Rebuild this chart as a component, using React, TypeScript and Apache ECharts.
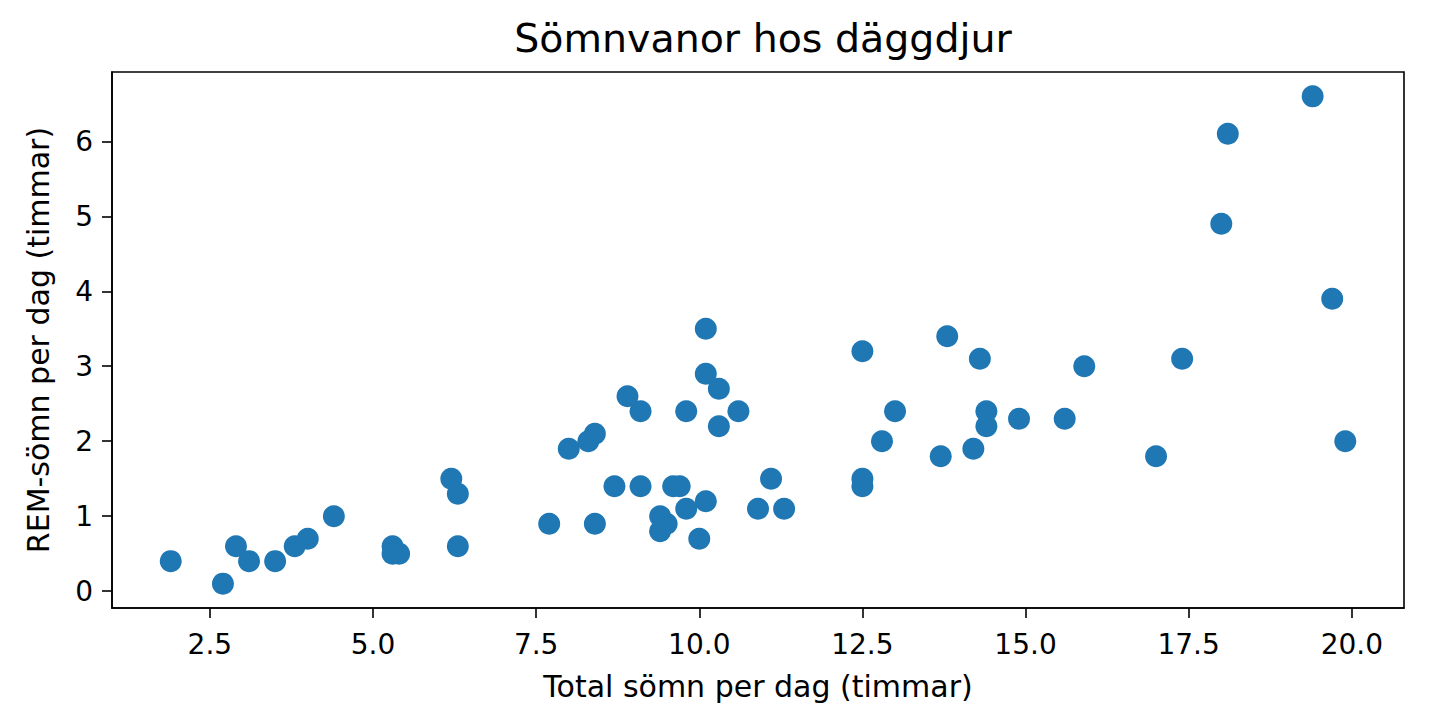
import { useEffect, useRef } from 'react';
import * as echarts from 'echarts';

// msleep: total sleep vs REM sleep (rows with REM missing are dropped)
const sleepTotal = [
  17.0, 14.4, 14.9, 4.0, 14.4, 8.7, 10.1, 5.3, 9.4, 10.0, 12.5, 10.3, 8.3, 9.1, 17.4,
  5.3, 18.0, 19.7, 2.9, 3.1, 10.1, 10.9, 12.5, 9.8, 1.9, 2.7, 6.2, 6.3, 8.0, 9.5,
  19.4, 10.1, 14.2, 14.3, 12.5, 19.9, 7.7, 8.4, 3.8, 9.7, 9.4, 10.3, 13.7, 3.5, 11.1,
  18.1, 5.4, 13.0, 9.6, 8.4, 11.3, 10.6, 13.8, 15.9, 12.8, 9.1, 4.4, 15.6, 8.9, 6.3,
  9.8,
];
const sleepRem = [
  1.8, 2.4, 2.3, 0.7, 2.2, 1.4, 2.9, 0.6, 0.8, 0.7, 1.5, 2.2, 2.0, 1.4, 3.1,
  0.5, 4.9, 3.9, 0.6, 0.4, 3.5, 1.1, 3.2, 1.1, 0.4, 0.1, 1.5, 0.6, 1.9, 0.9,
  6.6, 1.2, 1.9, 3.1, 1.4, 2.0, 0.9, 0.9, 0.6, 1.4, 1.0, 2.7, 1.8, 0.4, 1.5,
  6.1, 0.5, 2.4, 1.4, 2.1, 1.1, 2.4, 3.4, 3.0, 2.0, 2.4, 1.0, 2.3, 2.6, 1.3,
  2.4,
];
const xTicks = [2.5, 5.0, 7.5, 10.0, 12.5, 15.0, 17.5, 20.0];
const yTicks = [0, 1, 2, 3, 4, 5, 6];

const FONT = 'DejaVu Sans';

export default function App() {
  const chartRef = useRef<HTMLDivElement>(null);

  useEffect(() => {
    if (!chartRef.current) return;
    const chart = echarts.init(chartRef.current, undefined, { renderer: 'svg' });

    const tickStyle = { color: '#000', width: 1.6 };

    chart.setOption({
      animation: false,
      backgroundColor: '#fff',
      title: {
        text: 'Sömnvanor hos däggdjur',
        left: 758,
        top: 13,
        textAlign: 'center',
        textStyle: { fontFamily: FONT, fontSize: 39.5, fontWeight: 'normal', color: '#000' },
      },
      grid: { left: 112, right: 45, top: 72, bottom: 112, show: true, borderColor: '#000', borderWidth: 1.6 },
      xAxis: {
        type: 'value',
        min: 1.0,
        max: 20.8,
        name: 'Total sömn per dag (timmar)',
        nameLocation: 'middle',
        nameGap: 63,
        nameTextStyle: { fontFamily: FONT, fontSize: 30, color: '#000' },
        axisLine: { show: true, onZero: false, lineStyle: tickStyle },
        splitLine: { show: false },
        axisTick: { show: true, length: 10, customValues: xTicks, lineStyle: tickStyle },
        axisLabel: {
          customValues: xTicks,
          margin: 22,
          fontFamily: FONT,
          fontSize: 28,
          color: '#000',
          formatter: (v: number) => v.toFixed(1),
        },
      },
      yAxis: {
        type: 'value',
        min: -0.225,
        max: 6.925,
        name: 'REM-sömn per dag (timmar)',
        nameLocation: 'middle',
        nameGap: 59,
        nameTextStyle: { fontFamily: FONT, fontSize: 30, color: '#000' },
        axisLine: { show: true, onZero: false, lineStyle: tickStyle },
        splitLine: { show: false },
        axisTick: { show: true, length: 10, customValues: yTicks, lineStyle: tickStyle },
        axisLabel: {
          customValues: yTicks,
          margin: 19,
          fontFamily: FONT,
          fontSize: 28,
          color: '#000',
          formatter: (v: number) => String(Math.round(v)),
        },
      },
      series: [
        {
          type: 'scatter',
          symbol: 'circle',
          symbolSize: 22,
          itemStyle: { color: '#1f77b4', opacity: 1 },
          data: sleepTotal.map((t, i) => [t, sleepRem[i]]),
        },
      ],
    });

    return () => chart.dispose();
  }, []);

  return (
    <div
      ref={chartRef}
      style={{ position: 'absolute', left: 0, top: 0, width: 1449, height: 720 }}
    />
  );
}
